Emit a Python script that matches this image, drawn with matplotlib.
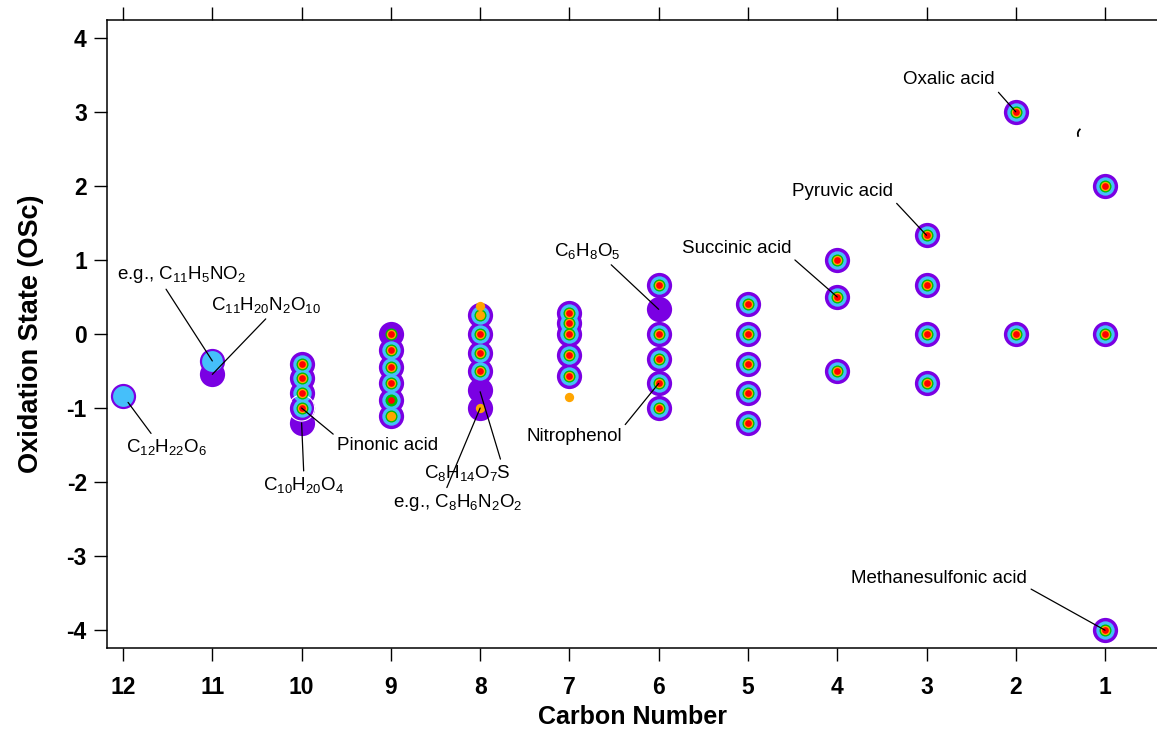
import matplotlib
matplotlib.use("Agg")
import matplotlib.pyplot as plt
from matplotlib import font_manager
from matplotlib.patches import Arc

# compounds found in every data set (all five rings)
full_c = [10, 10, 10, 10, 9, 9, 9, 8, 8, 8, 7, 7, 7, 7, 7, 6, 6, 6, 6, 6,
          5, 5, 5, 5, 5, 4, 4, 4, 3, 3, 3, 3, 2, 2, 1, 1, 1]
full_os = [-0.4, -0.6, -0.8, -1.0, -0.222, -0.444, -0.667, 0.0, -0.25, -0.5,
           0.286, 0.143, 0.0, -0.286, -0.571, 0.667, 0.0, -0.333, -0.667, -1.0,
           0.4, 0.0, -0.4, -0.8, -1.2, 1.0, 0.5, -0.5, 1.333, 0.667, 0.0, -0.667,
           3.0, 0.0, 2.0, 0.0, -4.0]

# extra points per data set (outer -> inner ring)
purple_c = [12, 11, 11, 10, 9, 9, 9, 8, 8, 8, 6]
purple_os = [-0.833, -0.364, -0.545, -1.2, 0.0, -0.889, -1.111, 0.25, -0.75, -1.0, 0.333]
blue_c = [9, 9, 8]
blue_os = [-0.889, -1.111, 0.25]
green_c = [9, 9, 9, 8]
green_os = [0.0, -0.889, -1.111, 0.25]
orange_c = [9, 9, 8, 8, 8, 7]
orange_os = [0.0, -1.111, 0.375, 0.25, -1.0, -0.857]
red_c = [9, 9]
red_os = [0.0, -0.889]

# large light-blue-only points
cyan_c = [12, 11]
cyan_os = [-0.833, -0.364]

highlight_c = [10]
highlight_os = [-1.0]

# labelled compounds
label_text = ["Oxalic acid", "Pyruvic acid", "Succinic acid", r"C$_6$H$_8$O$_5$",
              "Nitrophenol", "Methanesulfonic acid", r"C$_8$H$_{14}$O$_7$S",
              r"e.g., C$_8$H$_6$N$_2$O$_2$", r"C$_{10}$H$_{20}$O$_4$", "Pinonic acid",
              r"C$_{12}$H$_{22}$O$_6$", r"e.g., C$_{11}$H$_5$NO$_2$",
              r"C$_{11}$H$_{20}$N$_2$O$_{10}$"]
label_c = [2, 3, 4, 6, 6, 1, 8, 8, 10, 10, 12, 11, 11]
label_os = [3.0, 1.333, 0.5, 0.333, -0.667, -4.0, -0.78, -1.0, -1.2, -1.0, -0.833, -0.364, -0.545]

xticks = [12, 11, 10, 9, 8, 7, 6, 5, 4, 3, 2, 1]
yticks = [-4, -3, -2, -1, 0, 1, 2, 3, 4]

plt.rcParams["font.family"] = ["Liberation Sans", "DejaVu Sans"]
plt.rcParams["mathtext.fontset"] = "custom"
plt.rcParams["mathtext.rm"] = "Liberation Sans"
plt.rcParams["mathtext.it"] = "Liberation Sans:italic"
plt.rcParams["mathtext.bf"] = "Liberation Sans:bold"
plt.rcParams["axes.unicode_minus"] = False

installed = {f.name for f in font_manager.fontManager.ttflist}
if "Liberation Sans Narrow" in installed:
    tick_family, tick_size = "Liberation Sans Narrow", 19
else:
    tick_family, tick_size = "Liberation Sans", 16.5

fig = plt.figure(figsize=(11.57, 7.32), dpi=100)
ax = fig.add_axes([107 / 1157, 84 / 732, 1050 / 1157, 628 / 732])

purple, blue = "#7A00E3", "#45BFFA"
layers = [
    (purple_c, purple_os, purple, 330),
    (blue_c, blue_os, blue, 175),
    (green_c, green_os, "#00BE00", 75),
    (orange_c, orange_os, "#FFA500", 45),
    (red_c, red_os, "#FF0000", 23),
]
z = 2
for extra_c, extra_os, col, size in layers:
    ax.scatter(full_c + extra_c, full_os + extra_os, s=size, color=col,
               linewidths=0, zorder=z)
    z += 1
    if col == blue:
        ax.scatter(cyan_c, cyan_os, s=225, color=blue, linewidths=0, zorder=z)
        ax.scatter(highlight_c, highlight_os, s=350, facecolors="none",
                   edgecolors="white", linewidths=0.8, zorder=z)
        z += 1

# text placement (data coords), alignment and where the leader leaves the text
label_pos = [
    (2.232, 3.43, "right", (1.0, 0.0)),
    (3.374, 1.93, "right", (1.0, 0.0)),
    (4.517, 1.16, "right", (1.0, 0.0)),
    (6.80, 1.12, "center", (0.8, 0.0)),
    (6.41, -1.39, "right", (1.0, 1.0)),
    (1.873, -3.30, "right", (1.0, 0.0)),
    (8.147, -1.88, "center", (0.9, 1.0)),
    (8.247, -2.27, "center", (0.4, 1.0)),
    (9.975, -2.04, "center", (0.5, 1.0)),
    (9.603, -1.51, "left", (0.0, 1.0)),
    (11.518, -1.53, "center", (0.35, 1.0)),
    (12.067, 0.80, "left", (0.36, 0.0)),
    (10.398, 0.39, "center", (0.53, 0.0)),
]
for txt, cx, cy, (tx, ty, ha, rp) in zip(label_text, label_c, label_os, label_pos):
    shrink = 6 if cx == 12 else 0
    ax.annotate(txt, xy=(cx, cy), xytext=(tx, ty), ha=ha, va="center",
                fontsize=13.5, zorder=10,
                arrowprops=dict(arrowstyle="-", color="black", lw=0.9,
                                shrinkA=1, shrinkB=shrink, relpos=rp))

# stray leftover stroke near the top right (x axis is reversed, so angles mirror)
ax.add_patch(Arc((1.235, 2.70), 0.14, 0.17, theta1=-30, theta2=60,
                 color="black", lw=1.3))

ax.set_xlim(12.18, 0.418)
ax.set_ylim(-4.24, 4.24)
ax.set_xticks(xticks)
ax.set_yticks(yticks)
ax.spines["right"].set_visible(False)
for sp in ["left", "bottom", "top"]:
    ax.spines[sp].set_linewidth(1.1)
ax.tick_params(axis="x", which="major", direction="out", length=9.5, width=1,
               top=True, labeltop=False, pad=11)
ax.tick_params(axis="y", which="major", direction="out", length=9.5, width=1, pad=5)
for lab in ax.get_xticklabels() + ax.get_yticklabels():
    lab.set_fontfamily(tick_family)
    lab.set_fontsize(tick_size)
    lab.set_fontweight("bold")

ax.set_xlabel("Carbon Number", fontsize=18, fontweight="bold", labelpad=4)
ax.set_ylabel("Oxidation State (OSc)", fontsize=19.5, fontweight="bold", labelpad=16)

fig.savefig("out.png", dpi=100)
